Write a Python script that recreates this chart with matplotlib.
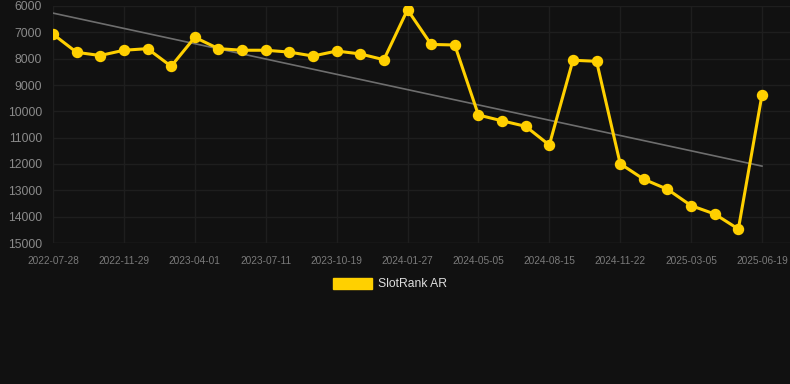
import matplotlib.pyplot as plt
from matplotlib.patches import Patch

plt.rcParams['font.family'] = ['Liberation Sans', 'DejaVu Sans']

# data
tick_labels = ['2022-07-28', '2022-11-29', '2023-04-01', '2023-07-11', '2023-10-19',
               '2024-01-27', '2024-05-05', '2024-08-15', '2024-11-22', '2025-03-05',
               '2025-06-19']
rank = [7070, 7760, 7880, 7680, 7620, 8290, 7190, 7620, 7680, 7680,
        7750, 7900, 7710, 7820, 8040, 6140, 7460, 7480, 10140, 10360,
        10570, 11280, 8060, 8100, 11990, 12580, 12960, 13580, 13900, 14470,
        9370]
trend = [6270, 12080]

bg = '#111111'
yellow = '#FFD000'

fig = plt.figure(figsize=(7.9, 3.84), dpi=100, facecolor=bg)
ax = fig.add_axes([53 / 790, 1 - 243 / 384, 1 - 53 / 790, (243 - 6) / 384])
ax.set_facecolor(bg)

x = list(range(len(rank)))
ax.plot([x[0], x[-1]], trend, color='#6e6e6e', lw=1.2, zorder=2)
ax.plot(x, rank, color=yellow, lw=2.2, marker='o', markersize=7.2, zorder=3)

ax.set_ylim(15000, 6000)
ax.set_xlim(0, 30 * (790 - 53) / (762 - 53))
ax.set_yticks(range(6000, 15001, 1000))
ax.set_xticks(x[::3])
ax.set_xticklabels(tick_labels)

ax.grid(True, color='#1e1e1e', lw=1.0, zorder=0)
for s in ax.spines.values():
    s.set_visible(False)
ax.axhline(15000, color='#282828', lw=1.0, zorder=1)
ax.tick_params(axis='y', length=0, pad=8, labelsize=8.7, labelcolor='#8a8a8a')
ax.tick_params(axis='x', length=0, pad=9, labelsize=7.3, labelcolor='#7a7a7a')

leg = fig.legend(handles=[Patch(facecolor=yellow, edgecolor=yellow, label='SlotRank AR')],
                 loc='center', bbox_to_anchor=(390 / 790, 1 - 284 / 384),
                 frameon=False, fontsize=8.7, handlelength=3.3, handleheight=1.0,
                 handletextpad=0.5)
for t in leg.get_texts():
    t.set_color('#dddddd')

fig.savefig('out.png', dpi=100, facecolor=bg)
